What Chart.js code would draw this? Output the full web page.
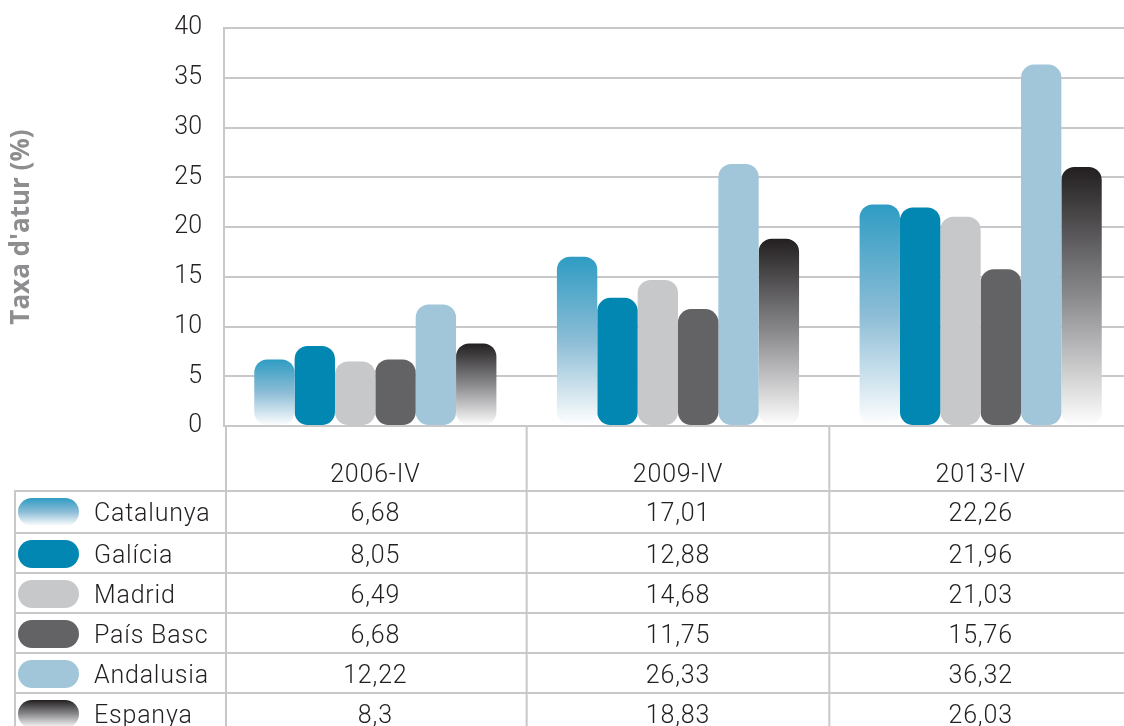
<!DOCTYPE html>
<html>
<head>
<meta charset="utf-8">
<script src="https://cdn.jsdelivr.net/npm/chart.js@4.4.1/dist/chart.umd.min.js"></script>
<style>
  html, body { margin: 0; padding: 0; background: #fff; }
  #wrap { width: 1124px; height: 726px; overflow: hidden; position: relative; }
  #chart { position: absolute; left: 0; top: 0; }
</style>
</head>
<body>
<div id="wrap"><canvas id="chart" width="1134" height="726"></canvas></div>
<script>
// dades
var categories = ['2006-IV', '2009-IV', '2013-IV'];
var seriesNames = ['Catalunya', 'Galícia', 'Madrid', 'País Basc', 'Andalusia', 'Espanya'];
var catalunya = [6.68, 17.01, 22.26];
var galicia = [8.05, 12.88, 21.96];
var madrid = [6.49, 14.68, 21.03];
var paisBasc = [6.68, 11.75, 15.76];
var andalusia = [12.22, 26.33, 36.32];
var espanya = [8.3, 18.83, 26.03];
var yTicks = [0, 5, 10, 15, 20, 25, 30, 35, 40];

var seriesValues = [catalunya, galicia, madrid, paisBasc, andalusia, espanya];
// colors: solid, or [top, mid, bottom] for gradients
var seriesColors = [
  ['#2f9cc3', '#8dbdd6', '#ffffff'],
  '#0287b2',
  '#c7c8ca',
  '#636365',
  '#a1c6da',
  ['#231f20', '#8a8a8d', '#ffffff']
];

var textColor = '#231f20';
var lineColor = '#c8c8ca';
var fontFamily = 'Roboto, "Open Sans", sans-serif';

var makeGradient = function (c, col, y0, y1) {
  var g = c.createLinearGradient(0, y0, 0, y1);
  g.addColorStop(0, col[0]);
  g.addColorStop(0.5, col[1]);
  g.addColorStop(1, col[2]);
  return g;
};

// gradient fill per bar, top -> bottom
var barFill = function (col) {
  if (typeof col === 'string') return col;
  return function (ctx) {
    var chart = ctx.chart;
    if (!chart.chartArea || ctx.raw === undefined) return col[0];
    var y = chart.scales.y;
    return makeGradient(chart.ctx, col, y.getPixelForValue(ctx.raw), y.getPixelForValue(0));
  };
};

var datasets = seriesNames.map(function (name, i) {
  return {
    label: name,
    data: seriesValues[i],
    backgroundColor: barFill(seriesColors[i]),
    borderWidth: 0,
    borderRadius: 13,
    borderSkipped: false,
    categoryPercentage: 0.8,
    barPercentage: 1.0
  };
});

var fmt = function (v) { return String(v).replace('.', ','); };

// taula de dades sota el grafic
var tablePlugin = {
  id: 'dataTable',
  afterDraw: function (chart) {
    var c = chart.ctx;
    var x = chart.scales.x;
    var area = chart.chartArea;
    var half = (x.getPixelForValue(1) - x.getPixelForValue(0)) / 2;
    var rowTops = [491, 533, 573, 613, 653, 693];
    var bottom = chart.height;

    c.save();
    c.strokeStyle = lineColor;
    c.lineWidth = 2;
    c.beginPath();
    rowTops.forEach(function (t) {
      c.moveTo(14, t); c.lineTo(chart.width, t);
    });
    c.moveTo(15, rowTops[0]); c.lineTo(15, bottom);
    c.moveTo(area.left + 2, area.bottom); c.lineTo(area.left + 2, bottom);
    for (var k = 0; k < categories.length - 1; k++) {
      var xx = x.getPixelForValue(k) + half;
      c.moveTo(xx, area.bottom); c.lineTo(xx, bottom);
    }
    c.stroke();

    c.fillStyle = textColor;
    c.font = '300 25px ' + fontFamily;
    c.letterSpacing = '0.8px';
    c.textBaseline = 'middle';
    c.textAlign = 'center';
    categories.forEach(function (cat, j) {
      c.fillText(cat, x.getPixelForValue(j), 476);
    });

    seriesNames.forEach(function (name, i) {
      var cy = rowTops[i] + 21;
      // swatch
      var col = seriesColors[i];
      c.fillStyle = typeof col === 'string' ? col : makeGradient(c, col, cy - 14, cy + 14);
      c.beginPath();
      c.roundRect(18, cy - 14, 61, 28, 14);
      c.fill();

      c.fillStyle = textColor;
      c.textAlign = 'left';
      c.fillText(name, 94, cy + 3);
      c.textAlign = 'center';
      seriesValues[i].forEach(function (v, j) {
        c.fillText(fmt(v), x.getPixelForValue(j), cy + 3);
      });
    });
    c.restore();
  }
};

var ctx = document.getElementById('chart').getContext('2d');
window.aturChart = new Chart(ctx, {
  type: 'bar',
  data: { labels: categories, datasets: datasets },
  plugins: [tablePlugin],
  options: {
    responsive: false,
    animation: false,
    devicePixelRatio: 1,
    layout: { padding: { top: 28, right: 2, bottom: 300, left: 0 } },
    plugins: {
      legend: { display: false },
      tooltip: { enabled: false },
      title: { display: false }
    },
    scales: {
      x: {
        display: false,
        offset: true
      },
      y: {
        min: 0,
        max: 40,
        afterFit: function (s) {
          s.width = 224;
          s.paddingTop = 0;
          s.paddingBottom = 0;
        },
        afterBuildTicks: function (s) {
          s.ticks = yTicks.map(function (v) { return { value: v }; });
        },
        grid: { color: lineColor, lineWidth: 2, drawTicks: false },
        border: { color: lineColor, width: 2 },
        ticks: {
          color: textColor,
          padding: 22,
          font: { family: fontFamily, size: 25, weight: '300' }
        },
        title: {
          display: true,
          text: "Taxa d'atur (%)",
          color: '#8e8e90',
          padding: { top: 6, bottom: 0 },
          font: { family: '"Open Sans", sans-serif', size: 26, weight: 'bold' }
        }
      }
    }
  }
});
</script>
</body>
</html>
